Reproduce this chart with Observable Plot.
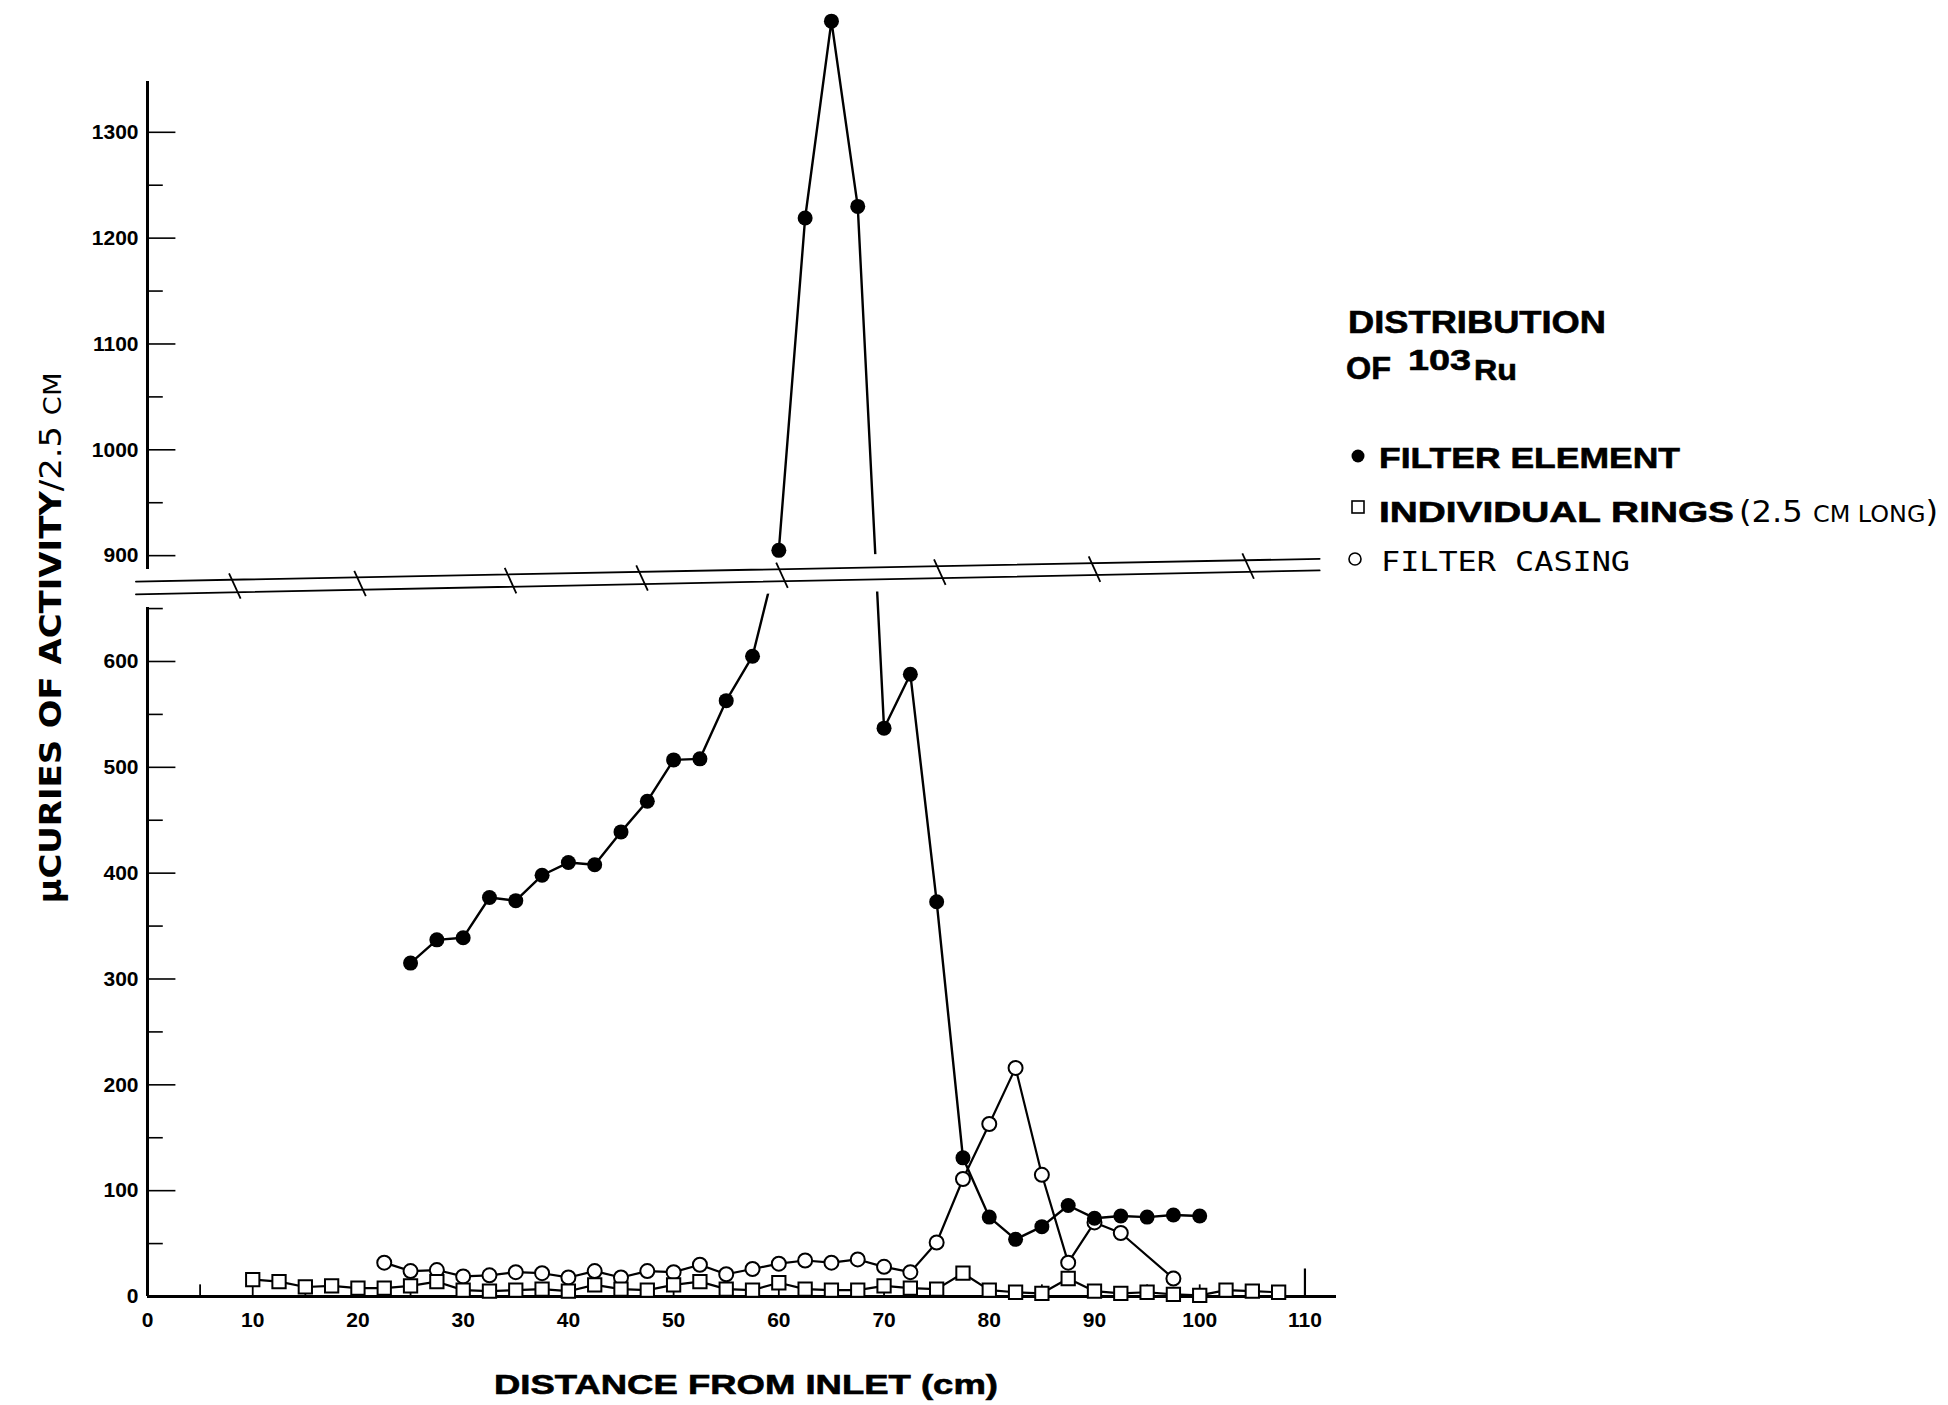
<!DOCTYPE html>
<html>
<head>
<meta charset="utf-8">
<script src="https://cdn.jsdelivr.net/npm/d3@7"></script>
<script src="https://cdn.jsdelivr.net/npm/@observablehq/plot@0.6"></script>
<style>
html, body { margin: 0; padding: 0; background: #fff; }
#chart svg { display: block; }
</style>
</head>
<body>
<div id="chart"></div>
<script>
// ---------- data (distance from inlet, cm ; µCi per 2.5 cm) ----------
const filterElementX = [25, 27.5, 30, 32.5, 35, 37.5, 40, 42.5, 45, 47.5, 50, 52.5, 55, 57.5, 60, 62.5, 65, 67.5, 70, 72.5, 75, 77.5, 80, 82.5, 85, 87.5, 90, 92.5, 95, 97.5, 100];
const filterElementY = [315, 337, 339, 377, 374, 398, 410, 408, 439, 468, 507, 508, 563, 605, 905, 1219, 1405, 1230, 537, 588, 373, 131, 75, 54, 66, 86, 74, 76, 75, 77, 76];

const ringsX = [10, 12.5, 15, 17.5, 20, 22.5, 25, 27.5, 30, 32.5, 35, 37.5, 40, 42.5, 45, 47.5, 50, 52.5, 55, 57.5, 60, 62.5, 65, 67.5, 70, 72.5, 75, 77.5, 80, 82.5, 85, 87.5, 90, 92.5, 95, 97.5, 100, 102.5, 105, 107.5];
const ringsY = [16, 14, 9, 10, 8, 8, 10, 14, 6, 5, 6, 7, 5, 11, 7, 6, 11, 14, 7, 6, 13, 7, 6, 6, 10, 8, 7, 22, 6, 4, 3, 17, 5, 3, 4, 2, 1, 6, 5, 4];

const casingX = [22.5, 25, 27.5, 30, 32.5, 35, 37.5, 40, 42.5, 45, 47.5, 50, 52.5, 55, 57.5, 60, 62.5, 65, 67.5, 70, 72.5, 75, 77.5, 80, 82.5, 85, 87.5, 90, 92.5, 97.5];
const casingY = [32, 24, 25, 19, 20, 23, 22, 18, 24, 18, 24, 23, 30, 21, 26, 31, 34, 32, 35, 28, 23, 51, 111, 163, 216, 115, 32, 70, 60, 17];

// ---------- axes ----------
const yMajorTicks = [0, 100, 200, 300, 400, 500, 600, 900, 1000, 1100, 1200, 1300];
const yMinorTicks = [50, 150, 250, 350, 450, 550, 650, 950, 1050, 1150, 1250];
const xLabelTicks = [0, 10, 20, 30, 40, 50, 60, 70, 80, 90, 100, 110];
const xInnerTicks = [5, 10, 15, 20, 25, 30, 35, 40, 45, 50, 55, 60, 65, 70, 75, 80, 85, 90, 95, 100, 105];
const xEndTick = [110];
const yAxisSegStart = [0, 887];
const yAxisSegEnd = [651, 1348];

// ---------- scale break (600 -> 900 compressed) ----------
const breakX = [-1.1, 111.4];
const breakLowerY = [663.5, 686];
const breakUpperY = [675.5, 697];
const breakSlashX = [8.3, 20.2, 34.5, 47, 60.3, 75.3, 90, 104.6];

// broken-axis mapping: values from 900 up are drawn 200 lower
const brk = v => (v >= 800 ? v - 200 : v);
const unbrk = v => (v > 660 ? v + 200 : v);

// ---------- build tables ----------
const toRows = (xs, ys) => xs.map((x, i) => ({x, y: ys[i], yb: brk(ys[i])}));
const element = toRows(filterElementX, filterElementY);
const rings = toRows(ringsX, ringsY);
const casing = toRows(casingX, casingY);
const breakLower = toRows(breakX, breakLowerY);
const breakUpper = toRows(breakX, breakUpperY);
const maskRows = breakX.map((x, i) => ({x, lo: breakLowerY[i] - 12, hi: breakUpperY[i] + 12}));
const interp = (xs, ys, x) => ys[0] + (ys[1] - ys[0]) * (x - xs[0]) / (xs[1] - xs[0]);
const slashes = breakSlashX.map(x => {
  const mid = (interp(breakX, breakLowerY, x) + interp(breakX, breakUpperY, x)) / 2;
  return {x1: x - 0.55, y1: mid + 12, x2: x + 0.55, y2: mid - 12};
});
const yAxisSegs = yAxisSegStart.map((a, i) => ({a: brk(a), b: brk(yAxisSegEnd[i])}));

const tickFont = "'Liberation Sans', Arial, sans-serif";

const chart = Plot.plot({
  width: 1948,
  height: 1405,
  marginLeft: 147,
  marginRight: 612,
  marginTop: 81,
  marginBottom: 109,
  x: {domain: [0, 113], label: null},
  y: {domain: [0, 1148], label: null},
  style: {background: "white", color: "black"},
  marks: [
    // series lines
    Plot.line(rings, {x: "x", y: "yb", stroke: "black", strokeWidth: 2.2}),
    Plot.line(casing, {x: "x", y: "yb", stroke: "black", strokeWidth: 2.2}),
    Plot.line(element, {x: "x", y: "yb", stroke: "black", strokeWidth: 2.4}),
    // blank band of the broken axis
    Plot.areaY(maskRows, {x: "x", y1: "lo", y2: "hi", fill: "white"}),
    Plot.line(breakLower, {x: "x", y: "yb", stroke: "black", strokeWidth: 1.8}),
    Plot.line(breakUpper, {x: "x", y: "yb", stroke: "black", strokeWidth: 1.8}),
    Plot.link(slashes, {x1: "x1", y1: "y1", x2: "x2", y2: "y2", stroke: "black", strokeWidth: 1.8}),
    // axis lines and inward ticks
    Plot.ruleY([0], {x1: 0, x2: 113, stroke: "black", strokeWidth: 3}),
    Plot.ruleX(yAxisSegs, {x: 0, y1: "a", y2: "b", stroke: "black", strokeWidth: 3}),
    Plot.ruleY(yMajorTicks, {y: d => brk(d), x1: 0, x2: 2.7, stroke: "black", strokeWidth: 1.6}),
    Plot.ruleY(yMinorTicks, {y: d => brk(d), x1: 0, x2: 1.5, stroke: "black", strokeWidth: 1.6}),
    Plot.ruleX(xInnerTicks, {x: d => d, y1: 0, y2: 11, stroke: "black", strokeWidth: 1.8}),
    Plot.ruleX(xEndTick, {x: d => d, y1: 0, y2: 26, stroke: "black", strokeWidth: 2.2}),
    Plot.axisY({ticks: yMajorTicks.map(brk), tickSize: 0, tickPadding: 9, tickFormat: t => String(unbrk(t)), label: null,
      fontSize: 21, fontWeight: "bold", fontFamily: tickFont, stroke: "black", strokeWidth: 0.7}),
    Plot.axisX({ticks: xLabelTicks, tickSize: 0, tickPadding: 16, tickFormat: d => String(d), label: null,
      fontSize: 21, fontWeight: "bold", fontFamily: tickFont, stroke: "black", strokeWidth: 0.7}),
    // markers
    Plot.dot(casing, {x: "x", y: "yb", r: 7, fill: "white", stroke: "black", strokeWidth: 2}),
    Plot.dot(rings, {x: "x", y: "yb", r: 7.5, symbol: "square", fill: "white", stroke: "black", strokeWidth: 2}),
    Plot.dot(element, {x: "x", y: "yb", r: 7.5, fill: "black", stroke: "none"})
  ]
});
document.getElementById("chart").appendChild(chart);

// ---------- titles & legend ----------
const svg = d3.select(chart);
const narrow = "'Liberation Sans Narrow', 'DejaVu Sans Condensed', 'Liberation Sans', Arial, sans-serif";
const heavy = sel => sel.attr("stroke", "black").attr("stroke-width", 0.6);

const yt = svg.append("text")
  .attr("transform", "translate(61,638) rotate(-90)")
  .attr("text-anchor", "middle")
  .attr("textLength", 531).attr("lengthAdjust", "spacingAndGlyphs")
  .attr("font-family", narrow).attr("font-size", 31).attr("fill", "black");
yt.append("tspan").attr("font-weight", "bold").text("\u03BCCURIES OF ACTIVITY");
yt.append("tspan").text("/2.5 ");
yt.append("tspan").attr("font-size", 25).text("CM");

svg.append("text")
  .attr("x", 746).attr("y", 1394)
  .attr("text-anchor", "middle")
  .attr("textLength", 504).attr("lengthAdjust", "spacingAndGlyphs")
  .attr("font-family", tickFont).attr("font-weight", "bold").attr("font-size", 28)
  .call(heavy)
  .text("DISTANCE FROM INLET (cm)");

const lg = svg.append("g").attr("fill", "black").attr("text-anchor", "start");
lg.append("text").attr("x", 1348).attr("y", 333)
  .attr("textLength", 258).attr("lengthAdjust", "spacingAndGlyphs")
  .attr("font-family", tickFont).attr("font-weight", "bold").attr("font-size", 31)
  .call(heavy).text("DISTRIBUTION");
lg.append("text").attr("x", 1346).attr("y", 379)
  .attr("textLength", 45).attr("lengthAdjust", "spacingAndGlyphs")
  .attr("font-family", tickFont).attr("font-weight", "bold").attr("font-size", 31)
  .call(heavy).text("OF");
lg.append("text").attr("x", 1408).attr("y", 370)
  .attr("textLength", 63).attr("lengthAdjust", "spacingAndGlyphs")
  .attr("font-family", tickFont).attr("font-weight", "bold").attr("font-size", 30)
  .call(heavy).text("103");
lg.append("text").attr("x", 1474).attr("y", 380)
  .attr("textLength", 43).attr("lengthAdjust", "spacingAndGlyphs")
  .attr("font-family", tickFont).attr("font-weight", "bold").attr("font-size", 29)
  .call(heavy).text("Ru");

lg.append("circle").attr("cx", 1358).attr("cy", 456).attr("r", 6.5).attr("fill", "black");
lg.append("text").attr("x", 1379).attr("y", 468)
  .attr("textLength", 301).attr("lengthAdjust", "spacingAndGlyphs")
  .attr("font-family", tickFont).attr("font-weight", "bold").attr("font-size", 29)
  .call(heavy).text("FILTER ELEMENT");

lg.append("rect").attr("x", 1352).attr("y", 501).attr("width", 12).attr("height", 12)
  .attr("fill", "white").attr("stroke", "black").attr("stroke-width", 1.6);
lg.append("text").attr("x", 1379).attr("y", 522)
  .attr("textLength", 355).attr("lengthAdjust", "spacingAndGlyphs")
  .attr("font-family", tickFont).attr("font-weight", "bold").attr("font-size", 29)
  .call(heavy).text("INDIVIDUAL RINGS");
const paren = lg.append("text").attr("x", 1739).attr("y", 522)
  .attr("textLength", 199).attr("lengthAdjust", "spacingAndGlyphs")
  .attr("font-family", narrow).attr("font-size", 31);
paren.append("tspan").text("(2.5 ");
paren.append("tspan").attr("font-size", 23).text("CM LONG");
paren.append("tspan").text(")");

lg.append("circle").attr("cx", 1355).attr("cy", 559).attr("r", 6)
  .attr("fill", "white").attr("stroke", "black").attr("stroke-width", 1.6);
lg.append("text").attr("x", 1381).attr("y", 571)
  .attr("textLength", 249).attr("lengthAdjust", "spacingAndGlyphs")
  .attr("font-family", "'DejaVu Sans Mono', 'Liberation Mono', monospace").attr("font-size", 27)
  .text("FILTER CASING");
</script>
</body>
</html>
